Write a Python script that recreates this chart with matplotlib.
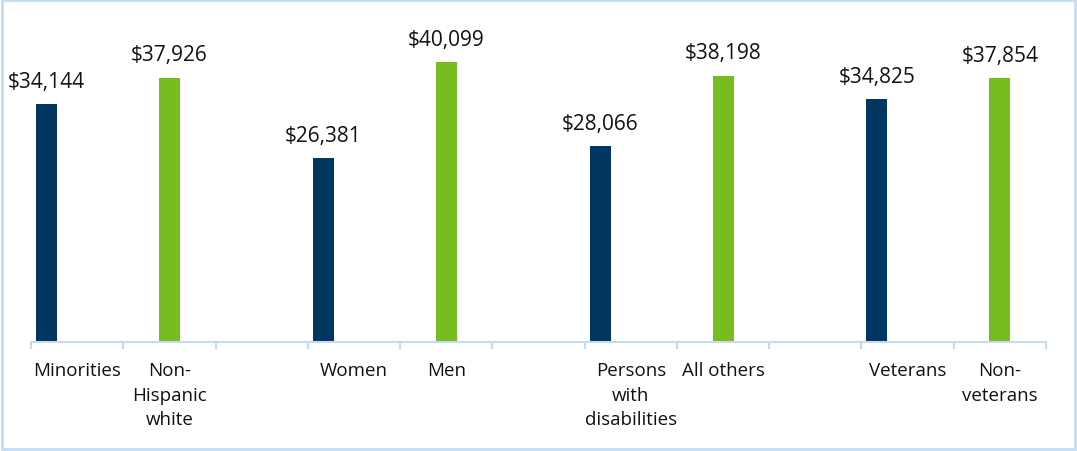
import numpy as np
import matplotlib.pyplot as plt
from matplotlib.patches import Rectangle

# --- data ---
blue_labels = ["Minorities", "Women", "Persons\nwith\ndisabilities", "Veterans"]
blue_values = [34144, 26381, 28066, 34825]
green_labels = ["Non-\nHispanic\nwhite", "Men", "All others", "Non-\nveterans"]
green_values = [37926, 40099, 38198, 37854]

navy = "#00365f"
green = "#78bd20"
frame = "#c3dcf3"

plt.rcParams['font.family'] = ['Open Sans', 'DejaVu Sans']

# each group takes 3 slots: blue, green, blank
n_groups = len(blue_values)
blue_slots = np.arange(n_groups) * 3
green_slots = blue_slots + 1
n_slots = n_groups * 3 - 1

fig = plt.figure(figsize=(10.77, 4.52), dpi=100)
ax = fig.add_axes([0.0288, 0.2412, 0.9424, 0.694])

bar_w = 0.228
bars_b = ax.bar(blue_slots - 0.333, blue_values, width=bar_w, color=navy)
bars_g = ax.bar(green_slots, green_values, width=bar_w, color=green)

for bars, vals in [(bars_b, blue_values), (bars_g, green_values)]:
    for b, v in zip(bars, vals):
        ax.annotate(f"${v:,}", (b.get_x() + b.get_width() / 2, v),
                    xytext=(0, 12.5), textcoords="offset points",
                    ha="center", va="baseline", fontsize=15, color="#111111")

ax.set_xlim(-0.5, n_slots - 0.5)
ax.set_ylim(0, 45000)

# category labels centred in their slots
slot_labels = [""] * n_slots
for s, lab in zip(blue_slots, blue_labels):
    slot_labels[s] = lab
for s, lab in zip(green_slots, green_labels):
    slot_labels[s] = lab
ax.set_xticks(np.arange(n_slots))
ax.set_xticklabels(slot_labels, fontsize=13.5, linespacing=1.45, va="top", color="#111111")
ax.tick_params(axis="x", which="major", length=0, pad=14)
ax.set_xticks(np.arange(n_slots + 1) - 0.5, minor=True)
ax.tick_params(axis="x", which="minor", length=5, width=1.5, color=frame, direction="out")

ax.set_yticks([])
for side in ["top", "right", "left"]:
    ax.spines[side].set_visible(False)
ax.spines["bottom"].set_color(frame)
ax.spines["bottom"].set_linewidth(1.5)

# chart border
fig.patches.append(Rectangle((0.002, 0.004), 0.996, 0.993, transform=fig.transFigure,
                             fill=False, edgecolor=frame, linewidth=2))

fig.savefig("out.png", dpi=100)
